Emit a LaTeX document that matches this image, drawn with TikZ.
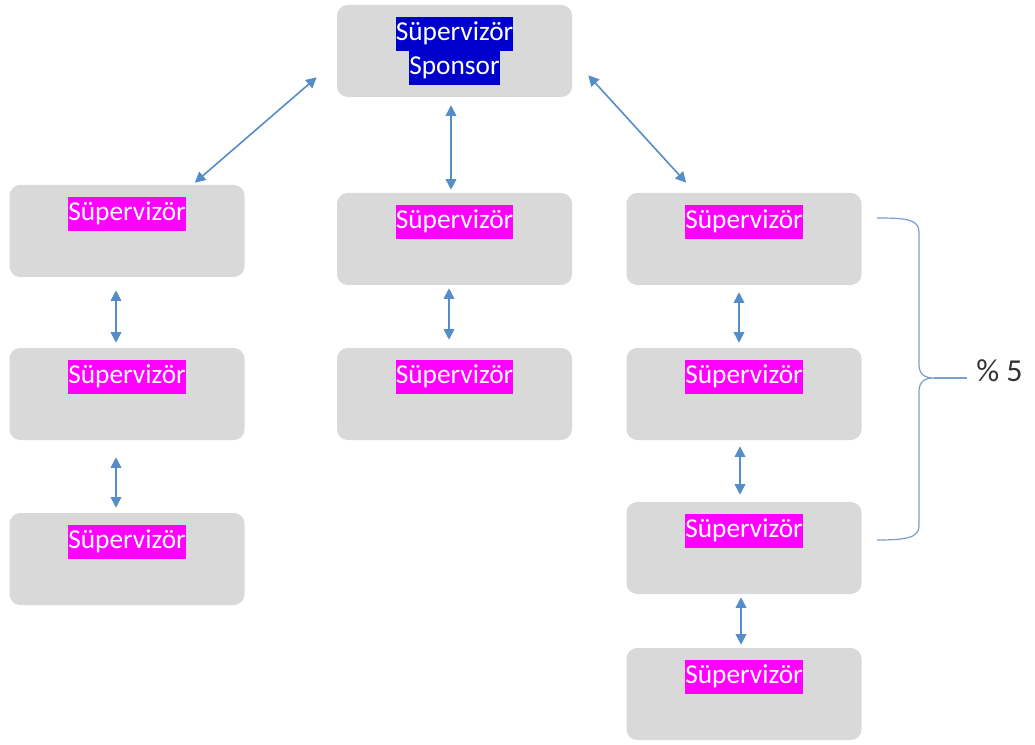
\documentclass[tikz,border=0pt]{standalone}
\usepackage{fontspec}
\setmainfont{Carlito}
\usetikzlibrary{arrows.meta, positioning, calc}
\definecolor{boxgray}{RGB}{217,217,217}
\definecolor{hlpink}{RGB}{255,0,255}
\definecolor{hlblue}{RGB}{0,0,204}
\definecolor{linkblue}{RGB}{84,141,199}
\definecolor{bracegray}{RGB}{120,160,200}
\newcommand{\hlmark}[2]{{\setlength{\fboxsep}{0pt}\colorbox{#1}{\strut#2}}}

\begin{document}
\begin{tikzpicture}[x=0.75pt, y=-0.75pt,
  sbox/.style={fill=boxgray, rounded corners=8pt, minimum width=176.25pt, minimum height=69pt, inner sep=0pt, align=center, text=white, font=\fontsize{20.5}{25.5}\selectfont},
  link/.style={draw=linkblue, line width=1.2pt, {Triangle[length=8pt,width=8pt]}-{Triangle[length=8pt,width=8pt]}},
  brace/.style={draw=bracegray, line width=0.9pt}
]
  \useasboundingbox (0,0) rectangle (1035,745);

  \node[sbox] (top) at (454.5,51) {\hlmark{hlblue}{Süpervizör}\\\hlmark{hlblue}{Sponsor}};

  \node[sbox] (l1) at (127,231) {\hlmark{hlpink}{Süpervizör}\\\strut};
  \node[sbox] (l2) at (127,394) {\hlmark{hlpink}{Süpervizör}\\\strut};
  \node[sbox] (l3) at (127,559) {\hlmark{hlpink}{Süpervizör}\\\strut};

  \node[sbox] (m1) at (454.5,239) {\hlmark{hlpink}{Süpervizör}\\\strut};
  \node[sbox] (m2) at (454.5,394) {\hlmark{hlpink}{Süpervizör}\\\strut};

  \node[sbox] (r1) at (744,239) {\hlmark{hlpink}{Süpervizör}\\\strut};
  \node[sbox] (r2) at (744,394) {\hlmark{hlpink}{Süpervizör}\\\strut};
  \node[sbox] (r3) at (744,548) {\hlmark{hlpink}{Süpervizör}\\\strut};
  \node[sbox] (r4) at (744,694) {\hlmark{hlpink}{Süpervizör}\\\strut};

  \draw[link] ($(top.south west)+(-20,-20)$) -- ($(l1.north east)+(-50,-2)$);
  \draw[link] ($(top.south)+(-3.5,8)$) -- ($(m1.north)+(-3.5,-3)$);
  \draw[link] ($(top.south east)+(16,-22)$) -- ($(r1.north west)+(60,-10)$);

  \draw[link] ($(l1.south)+(-11,13)$) -- ($(l2.north)+(-11,-5)$);
  \draw[link] ($(l2.south)+(-11,17)$) -- ($(l3.north)+(-11,-5)$);
  \draw[link] ($(m1.south)+(-5.5,3)$) -- ($(m2.north)+(-5.5,-8)$);
  \draw[link] ($(r1.south)+(-5,7)$) -- ($(r2.north)+(-5,-5)$);
  \draw[link] ($(r2.south)+(-4,6)$) -- ($(r3.north)+(-4,-7)$);
  \draw[link] ($(r3.south)+(-3,3)$) -- ($(r4.north)+(-3,-3)$);

  \coordinate (bt) at (934,378);
  \node[anchor=west, inner sep=0pt, font=\fontsize{24}{28}\selectfont, text=black!80] (pct) at (976,371) {\%~5};
  \draw[brace] (877,218) .. controls (905,218) and (919,219) .. (919,232) -- (919,364)
    .. controls (919,374) and (924,378) .. (bt)
    .. controls (924,378) and (919,382) .. (919,392) -- (919,526)
    .. controls (919,538) and (905,540) .. (877,540);
  \draw[brace] (bt) -- (967,378);
\end{tikzpicture}
\end{document}
